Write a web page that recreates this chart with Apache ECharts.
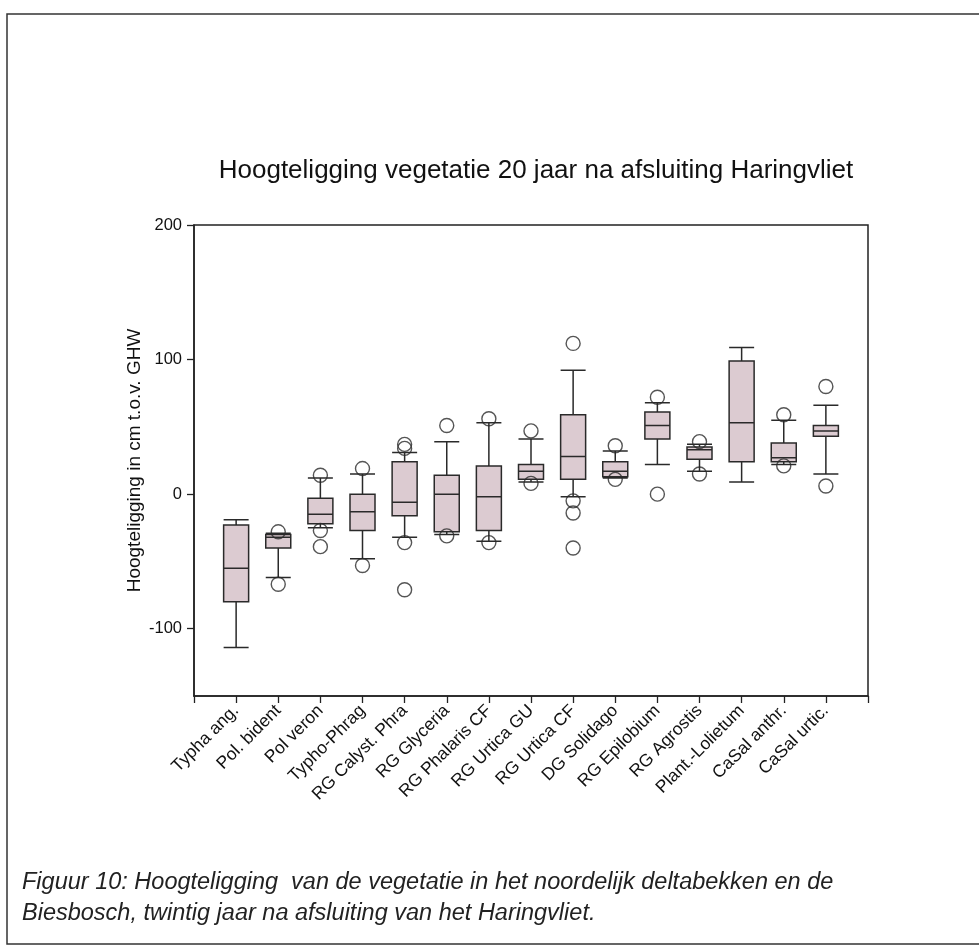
<!DOCTYPE html>
<html>
<head>
<meta charset="utf-8">
<title>Hoogteligging vegetatie</title>
<script src="https://cdn.jsdelivr.net/npm/echarts@6/dist/echarts.min.js"></script>
<style>
  html, body { margin: 0; padding: 0; background: #fff; }
  #chart { width: 979px; height: 947px; }
</style>
</head>
<body>
<div id="chart"></div>
<script>
// vegetation types, left to right
const categories = [
  'Typha ang.', 'Pol. bident', 'Pol veron', 'Typho-Phrag', 'RG Calyst. Phra',
  'RG Glyceria', 'RG Phalaris CF', 'RG Urtica GU', 'RG Urtica CF', 'DG Solidago',
  'RG Epilobium', 'RG Agrostis', 'Plant.-Lolietum', 'CaSal anthr.', 'CaSal urtic.',
]

// box statistics per category (cm t.o.v. GHW)
const whiskerLow = [-114, -62, -25, -48, -32, -30, -35, 9, -2, 12, 22, 17, 9, 22, 15]
const q1 = [-80, -40, -22, -27, -16, -28, -27, 11, 11, 13, 41, 26, 24, 24, 43]
const median = [-55, -32, -15, -13, -6, 0, -2, 17, 28, 17, 51, 33, 53, 27, 47]
const q3 = [-23, -30, -3, 0, 24, 14, 21, 22, 59, 24, 61, 35, 99, 38, 51]
const whiskerHigh = [-19, -29, 12, 15, 31, 39, 53, 41, 92, 32, 68, 37, 109, 55, 66]

// outliers: [category number (1-based), value]
const outliers = [
  [2, -28], [2, -67],
  [3, 14], [3, -27], [3, -39],
  [4, 19], [4, -53],
  [5, 37], [5, 34], [5, -36], [5, -71],
  [6, 51], [6, -31],
  [7, 56], [7, -36],
  [8, 47], [8, 8],
  [9, 112], [9, -5], [9, -14], [9, -40],
  [10, 36], [10, 11],
  [11, 72], [11, 0],
  [12, 39], [12, 15],
  [14, 59], [14, 21],
  [15, 80], [15, 6],
]

const yTicks = [-100, 0, 100, 200]

// axis runs from 0 to 16, boxes sit on 1..15
const axisCats = ['', ...categories, '']
const boxData = categories.map((name, i) => [
  i + 1, whiskerLow[i], q1[i], median[i], q3[i], whiskerHigh[i],
])

const font = '"Liberation Sans", Arial, sans-serif'
const chart = echarts.init(document.getElementById('chart'))

chart.setOption({
  animation: false,
  backgroundColor: '#fff',
  title: {
    text: 'Hoogteligging vegetatie 20 jaar na afsluiting Haringvliet',
    left: 531,
    top: 153,
    textAlign: 'center',
    textStyle: {
      fontFamily: font,
      fontSize: 26,
      fontWeight: 'normal',
      color: '#111',
    },
  },
  grid: {
    left: 194,
    right: 111,
    top: 225,
    bottom: 251,
    show: true,
    borderColor: '#222',
    borderWidth: 1.5,
  },
  xAxis: {
    type: 'category',
    data: axisCats,
    boundaryGap: false,
    axisLine: { onZero: false, lineStyle: { color: '#222', width: 1.5 } },
    axisTick: { length: 7, interval: 0, lineStyle: { color: '#222', width: 1.3 } },
    axisLabel: {
      interval: 0,
      rotate: 45,
      margin: 12,
      fontSize: 17.5,
      color: '#111',
      fontFamily: font,
    },
    splitLine: { show: false },
  },
  yAxis: {
    type: 'value',
    min: -150,
    max: 200,
    name: 'Hoogteligging in cm t.o.v. GHW',
    nameLocation: 'middle',
    nameMoveOverlap: false,
    nameGap: 50,
    nameTextStyle: {
      fontSize: 19,
      color: '#111',
      fontFamily: font,
    },
    axisLine: { show: true, lineStyle: { color: '#222', width: 1.5 } },
    axisTick: { show: true, length: 7, customValues: yTicks, lineStyle: { color: '#222', width: 1.3 } },
    axisLabel: {
      customValues: yTicks,
      fontSize: 16.5,
      margin: 12,
      color: '#111',
      fontFamily: font,
    },
    splitLine: { show: false },
  },
  series: [
    {
      type: 'boxplot',
      data: boxData,
      encode: { x: 0, y: [1, 2, 3, 4, 5] },
      boxWidth: [25, 25],
      itemStyle: {
        color: '#dccbd1',
        borderColor: '#2a2a2a',
        borderWidth: 1.5,
      },
    },
    {
      type: 'scatter',
      data: outliers,
      symbol: 'circle',
      symbolSize: 14,
      z: 3,
      itemStyle: {
        color: 'rgba(0,0,0,0)',
        borderColor: '#2a2a2a',
        borderWidth: 1.4,
      },
    },
  ],
  graphic: [
    {
      type: 'rect',
      shape: { x: 7, y: 14, width: 990, height: 930 },
      style: { fill: null, stroke: '#333', lineWidth: 1.5 },
      silent: true,
    },
    {
      type: 'text',
      left: 22,
      top: 867,
      style: {
        text: 'Figuur 10: Hoogteligging  van de vegetatie in het noordelijk deltabekken en de\nBiesbosch, twintig jaar na afsluiting van het Haringvliet.',
        font: 'italic 23.5px "Liberation Sans", Arial, sans-serif',
        lineHeight: 31,
        fill: '#222',
      },
    },
  ],
})
</script>
</body>
</html>
